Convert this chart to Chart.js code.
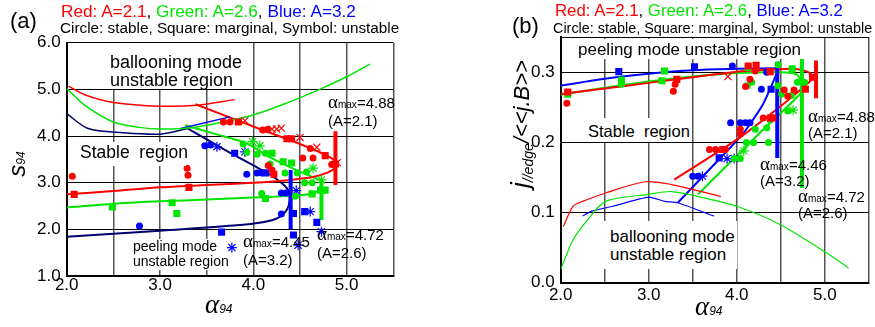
<!DOCTYPE html>
<html>
<head>
<meta charset="utf-8">
<script src="https://cdn.jsdelivr.net/npm/chart.js"></script>
<style>
body { margin: 0; background: #fff; }
#wrap { position: relative; width: 875px; height: 327px; overflow: hidden; font-family: "Liberation Sans", Arial, sans-serif; color: #000; }
canvas { position: absolute; top: 0; }
.box { position: absolute; background: #fff; }
.t { position: absolute; white-space: pre; line-height: 1; }
.am { font-size: 15px; line-height: 18px; }
.am .g { font-family: "Liberation Serif", serif; font-size: 19px; line-height: 0; }
.am .s { font-size: 10px; line-height: 0; }
.rot { transform: rotate(-90deg); transform-origin: center; text-align: center; }
.red { color: #ff0000; } .grn { color: #00e600; } .blu { color: #0000ff; }
</style>
</head>
<body>
<div id="wrap">
  <canvas id="chartA" width="440" height="327" style="left:0"></canvas>
  <canvas id="chartB" width="435" height="327" style="left:440px"></canvas>

  <!-- white label boxes -->
  <div class="box" style="left:104px;top:43px;width:146px;height:46px"></div>
  <div class="box" style="left:74px;top:142px;width:112px;height:24px"></div>
  <div class="box" style="left:130px;top:239px;width:97px;height:31px"></div>
  <div class="box" style="left:570px;top:38.5px;width:232px;height:20px"></div>
  <div class="box" style="left:580px;top:118px;width:112px;height:24px"></div>
  <div class="box" style="left:603px;top:221px;width:134px;height:48px"></div>

  <!-- panel (a) text -->
  <div class="t" style="left:10px;top:9.9px;font-size:22px">(a)</div>
  <div class="t" style="left:61px;top:2.6px;font-size:17.2px"><span class="red">Red: A=2.1</span>, <span class="grn">Green: A=2.6</span>, <span class="blu">Blue: A=3.2</span></div>
  <div class="t" style="left:60px;top:19.5px;font-size:15.3px">Circle: stable, Square: marginal, Symbol: unstable</div>
  <div class="t" style="left:110px;top:52.8px;font-size:18px;line-height:18px">ballooning mode
unstable region</div>
  <div class="t" style="left:80px;top:144.4px;font-size:17.5px">Stable  region</div>
  <div class="t" style="left:133px;top:238.6px;font-size:14px;line-height:15px">peeling mode
unstable region</div>
  <div class="t am" style="left:243px;top:232.8px"><span class="g">α</span><span class="s">max</span>=4.45
(A=3.2)</div>
  <div class="t am" style="left:317px;top:225.8px"><span class="g">α</span><span class="s">max</span>=4.72
(A=2.6)</div>
  <div class="t am" style="left:328px;top:93.8px"><span class="g">α</span><span class="s">max</span>=4.88
(A=2.1)</div>
  <div class="t rot" style="left:-7.8px;top:152px;width:50px;height:24px;font-size:24px;line-height:24px"><i>s</i><i style="font-size:12px;line-height:0">94</i></div>
  <div class="t" style="left:205px;top:291.2px;font-size:27px;line-height:26px;font-family:'Liberation Serif',serif"><i>α</i><i style="font-family:'Liberation Sans',Arial,sans-serif;font-size:12px;line-height:0">94</i></div>

  <!-- panel (b) text -->
  <div class="t" style="left:512px;top:15.4px;font-size:22px">(b)</div>
  <div class="t" style="left:555px;top:2.8px;font-size:16.8px"><span class="red">Red: A=2.1</span>, <span class="grn">Green: A=2.6</span>, <span class="blu">Blue: A=3.2</span></div>
  <div class="t" style="left:553px;top:20.5px;font-size:14.4px">Circle: stable, Square: marginal, Symbol: unstable</div>
  <div class="t" style="left:578px;top:40.6px;font-size:17px">peeling mode unstable region</div>
  <div class="t" style="left:588px;top:122.7px;font-size:16.5px">Stable  region</div>
  <div class="t" style="left:610px;top:228.4px;font-size:17px;line-height:18px">ballooning mode
unstable region</div>
  <div class="t am" style="left:808px;top:108.5px;line-height:16px"><span class="g">α</span><span class="s">max</span>=4.88
(A=2.1)</div>
  <div class="t am" style="left:760px;top:156.8px;line-height:16px"><span class="g">α</span><span class="s">max</span>=4.46
(A=3.2)</div>
  <div class="t am" style="left:798px;top:188.5px;line-height:16px"><span class="g">α</span><span class="s">max</span>=4.72
(A=2.6)</div>
  <div class="t rot" style="left:442.4px;top:113px;width:160px;height:22px;font-size:22px;line-height:22px"><i style="font-size:26px;line-height:0">j</i><i style="font-size:14px;line-height:0;vertical-align:-4px">//edge</i><i>/&lt;&lt;j.B&gt;&gt;</i></div>
  <div class="t" style="left:695px;top:293.2px;font-size:27px;line-height:26px;font-family:'Liberation Serif',serif"><i>α</i><i style="font-family:'Liberation Sans',Arial,sans-serif;font-size:12px;line-height:0">94</i></div>
</div>

<script>
// ---- panel (a): s94 vs alpha94 ----
const aRedBalloon = [[2.02,5.07],[2.2,4.88],[2.5,4.72],[3.0,4.64],[3.4,4.66],[3.8,4.78]];
const aGreenBalloon = [[2.0,5.02],[2.2,4.65],[2.5,4.3],[2.8,4.18],[3.0,4.15],[3.3,4.17],[3.6,4.27],[4.0,4.45],[4.35,4.7],[4.71,5.0],[5.0,5.27],[5.25,5.54]];
const aNavyTop = [[2.0,4.48],[2.23,4.16],[2.6,4.07],[3.0,4.04],[3.3,4.16]];
const aBlueTop = [[3.22,4.16],[3.75,4.41]];
const aRedStab = [[3.38,4.68],[4.07,4.15],[4.5,3.83],[4.8,3.57],[4.88,3.45],[4.88,3.33],[4.8,3.22],[4.64,3.12],[4.4,3.06],[4.0,3.0],[3.5,2.95],[3.0,2.9],[2.5,2.82],[2.0,2.75]];
const aGreenStab = [[3.27,4.23],[3.6,4.04],[3.92,3.85],[4.18,3.54],[4.45,3.28],[4.71,3.06]];
const aGreenLow = [[2.0,2.47],[2.5,2.55],[3.0,2.6],[3.5,2.64],[4.0,2.68],[4.4,2.72],[4.64,2.77],[4.72,2.85]];
const aNavyStab = [[3.3,4.16],[3.7,3.7],[4.0,3.37],[4.18,3.17],[4.3,3.0],[4.37,2.85],[4.39,2.65],[4.36,2.42],[4.27,2.25],[4.1,2.15],[3.79,2.08],[3.0,1.97],[2.0,1.84]];
// alpha_max bars: [alpha, top, bottom]
const aRedBar = [4.88, 4.1, 2.95];
const aGreenBar = [4.73, 3.05, 2.2];
const aBlueBar = [4.40, 3.27, 2.0];

const aRedCircle = [[2.06,3.14],[3.29,3.31],[3.30,3.16],[3.68,4.30],[3.75,4.30],[4.10,4.13],[4.15,4.14],[4.16,3.37],[4.20,3.27],[4.53,3.53],[4.64,3.53],[4.61,3.73],[4.84,3.39]];
const aRedSquare = [[2.08,2.75],[3.31,2.90],[3.84,4.30],[4.22,3.18],[4.36,3.94],[4.41,3.94],[4.77,3.58],[4.88,3.40]];
const aRedSymbol = [[3.91,4.33],[4.20,4.15],[4.25,4.15],[4.30,4.17],[4.50,3.97],[4.68,3.76],[4.90,3.43]];
const aGreenCircle = [[3.89,3.83],[3.93,3.65],[4.04,3.61],[4.13,3.63],[4.18,3.40],[4.09,2.77],[4.34,3.21],[4.47,3.21],[4.57,3.23],[4.55,3.00],[4.63,3.00],[4.45,2.71]];
const aGreenSquare = [[2.49,2.48],[3.13,2.57],[3.18,2.34],[4.13,2.66],[4.20,3.63],[4.32,3.45],[4.41,3.42],[4.63,2.76],[4.72,2.84],[4.77,2.84]];
const aGreenSymbol = [[3.99,3.88],[4.07,3.79],[4.64,3.31],[4.73,3.06]];
const aBlueCircle = [[2.78,2.07],[3.48,3.79],[3.54,3.81],[3.93,3.18],[4.04,3.21],[4.09,3.21],[4.30,2.78],[4.35,2.78],[4.30,2.33]];
const aBlueSquare = [[3.66,1.94],[3.80,3.63],[4.13,3.21],[4.43,2.34],[4.55,2.38],[4.68,2.15],[4.43,1.88]];
const aBlueSymbol = [[3.61,3.77],[3.91,3.66],[4.46,2.83],[4.61,2.38],[4.48,1.66],[4.73,1.95],[3.77,1.61]];

// ---- panel (b): j//edge/<<j.B>> vs alpha94 ----
const bRedBalloon = [[2.03,0.080],[2.14,0.109],[2.25,0.116],[2.51,0.128],[2.96,0.144],[3.26,0.140],[3.82,0.123]];
const bGreenBalloon = [[2.0,0.019],[2.14,0.061],[2.29,0.087],[2.51,0.116],[3.0,0.126],[3.26,0.130],[3.59,0.122],[4.0,0.109],[4.49,0.083],[5.0,0.044],[5.27,0.021]];
const bBlueBalloon = [[2.25,0.095],[2.35,0.102],[2.59,0.109],[3.0,0.122],[3.18,0.116],[3.33,0.114],[3.74,0.095]];
const bRedStab = [[2.0,0.269],[2.5,0.277],[3.0,0.285],[3.5,0.293],[4.0,0.301],[4.4,0.304],[4.65,0.305],[4.8,0.301],[4.87,0.294],[4.83,0.287],[4.53,0.255],[4.0,0.204],[3.29,0.147]];
const bGreenStab = [[2.0,0.268],[2.5,0.278],[3.0,0.287],[3.5,0.294],[4.0,0.299],[4.5,0.300],[4.68,0.297],[4.74,0.285],[4.74,0.272],[4.32,0.221],[4.0,0.181],[3.56,0.126]];
const bBlueTop = [[2.0,0.281],[2.5,0.291],[3.0,0.298],[3.5,0.303],[4.0,0.305],[4.46,0.306]];
const bBlueStab = [[4.46,0.300],[4.3,0.255],[4.08,0.214],[3.8,0.176],[3.33,0.114]];
const bRedBar = [4.90, 0.317, 0.263];
const bGreenBar = [4.74, 0.319, 0.135];
const bBlueBar = [4.46, 0.315, 0.178];

const bRedCircle = [[2.07,0.256],[3.28,0.273],[3.30,0.283],[4.10,0.280],[4.15,0.290],[4.21,0.302],[4.54,0.275],[4.65,0.275],[4.58,0.266],[4.30,0.235],[4.04,0.219],[4.04,0.212],[3.69,0.190],[3.76,0.190],[3.87,0.190]];
const bRedSquare = [[2.08,0.272],[3.32,0.290],[4.13,0.309],[4.22,0.310],[4.38,0.301],[4.38,0.235],[4.41,0.235],[3.84,0.190],[4.78,0.276],[4.86,0.293]];
const bRedSymbol = [[3.90,0.294]];
const bGreenCircle = [[2.69,0.283],[4.47,0.311],[4.12,0.281],[4.17,0.286],[4.47,0.281],[4.51,0.269],[4.58,0.245],[4.62,0.267],[4.69,0.286],[4.77,0.286],[4.21,0.219],[4.34,0.221],[4.38,0.232],[4.11,0.200],[4.19,0.200],[4.36,0.200],[3.97,0.177],[4.04,0.177]];
const bGreenSquare = [[2.08,0.269],[2.69,0.289],[3.15,0.288],[3.18,0.302],[4.13,0.307],[4.63,0.305]];
const bGreenSymbol = [[4.64,0.246],[4.08,0.188]];
const bBlueCircle = [[2.69,0.288],[3.95,0.309],[4.28,0.276],[4.34,0.300],[3.93,0.228],[4.04,0.228],[4.10,0.228],[4.15,0.228],[3.50,0.152],[3.56,0.152]];
const bBlueSquare = [[2.66,0.301],[3.52,0.308],[4.39,0.276],[3.80,0.178]];
const bBlueSymbol = [[3.89,0.177],[3.97,0.177],[3.61,0.152]];

const RED = '#ff0000', GREEN = '#00e600', BLUE = '#0000ff', NAVY = '#000070';

function pts(arr) { return arr.map(p => ({x: p[0], y: p[1]})); }

function curve(arr, color, width, tension) {
    return { data: pts(arr), showLine: true, borderColor: color, borderWidth: width,
             pointRadius: 0, tension: tension, fill: false, order: 2 };
}

function bar(b, color) {
    return { data: [{x: b[0], y: b[1]}, {x: b[0], y: b[2]}], showLine: true, borderColor: color,
             borderWidth: 4, pointRadius: 0, tension: 0, fill: false, order: 1 };
}

function marks(arr, color, style) {
    let r = style === 'circle' ? 3.5 : 5;
    return { data: pts(arr), showLine: false, pointStyle: style, pointRadius: r,
             backgroundColor: color, borderColor: color,
             borderWidth: style === 'circle' || style === 'rect' ? 0 : 1.2, order: 0 };
}

function isWhole(v, step) { return Math.abs(v / step - Math.round(v / step)) < 1e-6; }

function makeChart(id, datasets, cfg) {
    return new Chart(document.getElementById(id), {
        type: 'scatter',
        data: { datasets: datasets },
        options: {
            responsive: false,
            animation: false,
            events: [],
            plugins: { legend: { display: false }, tooltip: { enabled: false } },
            layout: { padding: { top: cfg.top, right: cfg.right, left: 0, bottom: 0 } },
            scales: {
                x: {
                    type: 'linear', min: 2, max: 5.5,
                    afterFit: s => { s.height = cfg.xh; },
                    ticks: {
                        stepSize: 0.5, autoSkip: false, maxRotation: 0, padding: cfg.xpad, color: '#000',
                        font: { family: 'Liberation Sans', size: 17 },
                        callback: v => (isWhole(v, 1) && v < 5.5) ? v.toFixed(1) : ''
                    },
                    grid: { drawTicks: false, color: '#555', lineWidth: 1.5 },
                    border: { color: '#000', width: 2 }
                },
                y: {
                    type: 'linear', min: cfg.ymin, max: cfg.ymax,
                    afterFit: s => { s.width = cfg.yw; },
                    ticks: {
                        stepSize: cfg.ystep, autoSkip: false, padding: 6, color: '#000',
                        font: { family: 'Liberation Sans', size: 17 },
                        callback: v => isWhole(v, cfg.ystep) && v <= cfg.ylast + 1e-9 ? v.toFixed(1) : ''
                    },
                    grid: { drawTicks: false, color: '#000', lineWidth: 1 },
                    border: { color: '#000', width: 2 }
                }
            }
        }
    });
}

makeChart('chartA', [
    marks(aRedCircle, RED, 'circle'), marks(aRedSquare, RED, 'rect'), marks(aRedSymbol, RED, 'crossRot'),
    marks(aGreenCircle, GREEN, 'circle'), marks(aGreenSquare, GREEN, 'rect'), marks(aGreenSymbol, GREEN, 'star'),
    marks(aBlueCircle, BLUE, 'circle'), marks(aBlueSquare, BLUE, 'rect'), marks(aBlueSymbol, BLUE, 'star'),
    bar(aRedBar, RED), bar(aGreenBar, GREEN), bar(aBlueBar, BLUE),
    curve(aRedBalloon, RED, 1.5, 0.3), curve(aGreenBalloon, GREEN, 1.5, 0.3),
    curve(aNavyTop, NAVY, 1.5, 0.3), curve(aBlueTop, BLUE, 1.5, 0),
    curve(aRedStab, RED, 2, 0.25), curve(aGreenStab, GREEN, 2, 0.2), curve(aGreenLow, GREEN, 2, 0.3),
    curve(aNavyStab, NAVY, 2, 0.3)
], { top: 42.7, right: 46.7, xh: 51, yw: 66.7, ymin: 1, ymax: 6, ystep: 1, ylast: 6, xpad: -1 });

makeChart('chartB', [
    marks(bRedCircle, RED, 'circle'), marks(bRedSquare, RED, 'rect'), marks(bRedSymbol, RED, 'crossRot'),
    marks(bGreenCircle, GREEN, 'circle'), marks(bGreenSquare, GREEN, 'rect'), marks(bGreenSymbol, GREEN, 'star'),
    marks(bBlueCircle, BLUE, 'circle'), marks(bBlueSquare, BLUE, 'rect'), marks(bBlueSymbol, BLUE, 'star'),
    bar(bRedBar, RED), bar(bGreenBar, GREEN), bar(bBlueBar, BLUE),
    curve(bRedBalloon, RED, 1.2, 0.3), curve(bGreenBalloon, GREEN, 1.2, 0.3), curve(bBlueBalloon, BLUE, 1.2, 0.2),
    curve(bRedStab, RED, 2, 0.2), curve(bGreenStab, GREEN, 2, 0.2),
    curve(bBlueTop, BLUE, 2, 0.3), curve(bBlueStab, BLUE, 2, 0.2)
], { top: 37.3, right: 0.9, xh: 44.3, yw: 120.7, ymin: 0, ymax: 0.35, ystep: 0.1, ylast: 0.3, xpad: 2 });
</script>
</body>
</html>
